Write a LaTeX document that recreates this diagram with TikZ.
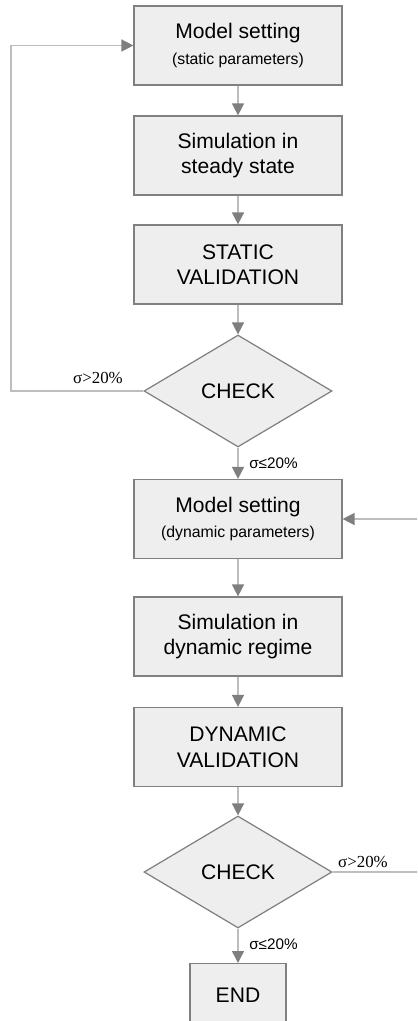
\documentclass[tikz,border=0pt]{standalone}
\usepackage{fontspec}
\setmainfont{Liberation Sans}
\newfontfamily\labelfont{Liberation Serif}
\usepackage{tikz}
\usetikzlibrary{shapes.geometric,arrows.meta}

\definecolor{boxfill}{HTML}{EEEEEE}
\definecolor{boxline}{HTML}{808080}
\definecolor{wire}{HTML}{BDBDBD}
\definecolor{tipgray}{HTML}{7F7F7F}

\tikzset{
  stepbox/.style={draw=boxline, fill=boxfill, line width=0.7pt, align=center,
    minimum width=4.16cm, minimum height=1.58cm, inner sep=0pt,
    font=\fontsize{12}{14.5}\selectfont},
  checkbox/.style={draw=boxline, fill=boxfill, line width=0.7pt, diamond,
    minimum width=3.76cm, minimum height=2.24cm, inner sep=0pt,
    font=\fontsize{12}{14.5}\selectfont},
  flow/.style={draw=wire, line width=0.85pt,
    -{Triangle[length=6.8pt,width=6.8pt,color=tipgray]}},
  cond/.style={font=\labelfont\fontsize{9.6}{11}\selectfont, inner sep=0pt},
  condok/.style={font=\fontsize{8.7}{10}\selectfont, inner sep=0pt}
}

\newcommand{\subtxt}[1]{{\fontsize{9}{10}\selectfont #1}}

\begin{document}
\begin{tikzpicture}[x=0.02cm, y=-0.02cm]
         \clip (0,0) rectangle (417,1021);
         % static part
         \node[stepbox] (MS) at (238, 45.5) {Model setting\\[0pt]\subtxt{(static parameters)}};
         \node[stepbox] (SS) at (238, 155.5) {Simulation in\\steady state};
         \node[stepbox] (SV) at (238, 264.5) {STATIC\\VALIDATION};
         \node[checkbox] (C1) at (238, 391) {CHECK};
         % dynamic part
         \node[stepbox] (MD) at (238, 519) {Model setting\\[0pt]\subtxt{(dynamic parameters)}};
         \node[stepbox] (SD) at (238, 636.5) {Simulation in\\dynamic regime};
         \node[stepbox] (DV) at (238, 747) {DYNAMIC\\VALIDATION};
         \node[checkbox] (C2) at (238, 872) {CHECK};
         \node[stepbox, minimum width=1.92cm, minimum height=1.4cm, anchor=north] (END) at (238, 963) {\raisebox{4pt}{END}};
         \coordinate (LL) at (11, 391);
         \coordinate (RR) at (430, 872);
         \draw [flow] (MS) -- (SS);
         \draw [flow] (SS) -- (SV);
         \draw [flow] (SV) -- (C1);
         \draw [flow] (C1) -- node [condok, anchor=west, pos=0.5, xshift=6pt] {σ≤20\%} (MD);
         \draw [flow] (C1.west) -- (LL) |- (MS.west);
         \draw [flow] (MD) -- (SD);
         \draw [flow] (SD) -- (DV);
         \draw [flow] (DV) -- (C2);
         \draw [flow] (C2) -- node [condok, anchor=west, pos=0.45, xshift=6pt] {σ≤20\%} (END);
         \draw [flow] (C2.east) -- (RR) |- (MD.east);
         \node [cond] (G1) at (98, 378) {σ>20\%};
         \node [cond] (G2) at (363, 862) {σ>20\%};
 \end{tikzpicture}
\end{document}
